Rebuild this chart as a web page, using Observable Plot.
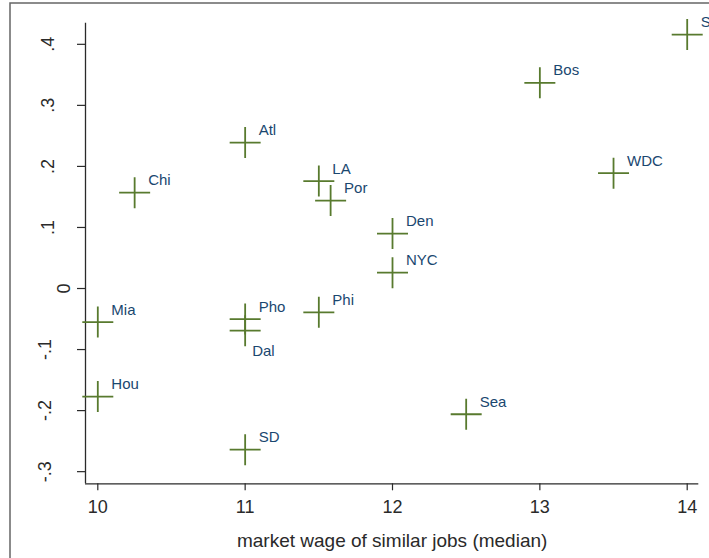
<!DOCTYPE html>
<html>
<head>
<meta charset="utf-8">
<script src="https://cdn.jsdelivr.net/npm/d3@7"></script>
<script src="https://cdn.jsdelivr.net/npm/@observablehq/plot@0.6"></script>
<style>
  html, body { margin: 0; padding: 0; background: #fff; overflow: hidden; }
  #chart { width: 709px; height: 558px; }
</style>
</head>
<body>
<div id="chart"></div>
<script>
// City labels and their coordinates
const cities   = ["SF", "Bos", "WDC", "Atl", "Chi", "LA", "Por", "Den", "NYC", "Phi", "Pho", "Dal", "Mia", "Hou", "SD", "Sea"];
const wage     = [14.0, 13.0, 13.5, 11.0, 10.25, 11.5, 11.58, 12.0, 12.0, 11.5, 11.0, 11.0, 10.0, 10.0, 11.0, 12.5];
const residual = [0.416, 0.337, 0.189, 0.239, 0.157, 0.176, 0.144, 0.090, 0.026, -0.039, -0.050, -0.069, -0.055, -0.177, -0.264, -0.206];

// Cities whose label sits below the marker instead of above-right
const labelBelow = ["Dal"];

// Axis ticks and their printed labels
const xTicks = [10, 11, 12, 13, 14];
const yTicksPos = [0.1, 0.2, 0.3, 0.4];
const yTicksNeg = [-0.3, -0.2, -0.1];
const yTicksZero = [0];
const yTickValues = [-0.3, -0.2, -0.1, 0, 0.1, 0.2, 0.3, 0.4];
const yTickLabels = ["-.3", "-.2", "-.1", "0", ".1", ".2", ".3", ".4"];

const xTitle = "market wage of similar jobs (median)";

const xDomain = [9.9165, 14.0787];
const yDomain = [-0.3199, 0.4346];

const points = cities.map((city, i) => ({city, wage: wage[i], residual: residual[i]}));

// Thin "+" marker
const plusSymbol = {
  draw(context, size) {
    const r = Math.sqrt(size / Math.PI);
    context.moveTo(-r, 0);
    context.lineTo(r, 0);
    context.moveTo(0, -r);
    context.lineTo(0, r);
  }
};

const yFormat = d => {
  const i = yTickValues.findIndex(v => Math.abs(v - d) < 1e-9);
  return i >= 0 ? yTickLabels[i] : "";
};

const markerColor = "#587a2e";
const labelColor = "#1a476f";
const axisColor = "#2a2a2a";

const yAxis = (ticks, pad) => Plot.axisY({
  ticks, tickSize: 8, tickPadding: pad, tickRotate: -90,
  tickFormat: yFormat, fontSize: 18, label: null, strokeWidth: 1.2
});

const chart = Plot.plot({
  width: 709,
  height: 558,
  marginLeft: 85,
  marginRight: 10.7,
  marginTop: 22.7,
  marginBottom: 74.7,
  style: {
    fontFamily: "'Liberation Sans', Arial, Helvetica, sans-serif",
    color: axisColor,
    background: "white",
    overflow: "visible"
  },
  x: {domain: xDomain},
  y: {domain: yDomain},
  marks: [
    Plot.frame({
      stroke: "#666", strokeWidth: 1.5,
      insetLeft: -75.5, insetTop: -20.2, insetRight: -60, insetBottom: -120
    }),
    Plot.ruleX([xDomain[0]], {stroke: axisColor, strokeWidth: 1.3}),
    Plot.ruleY([yDomain[0]], {stroke: axisColor, strokeWidth: 1.3}),
    Plot.axisX({
      ticks: xTicks, tickSize: 7, tickPadding: 9, fontSize: 18,
      tickFormat: d => String(d), label: null, strokeWidth: 1.2
    }),
    yAxis(yTicksPos, 23.7),
    yAxis(yTicksNeg, 27),
    yAxis(yTicksZero, 7.7),
    Plot.text([xTitle], {
      frameAnchor: "bottom", dy: 63.4, lineAnchor: "bottom",
      fontSize: 19, fill: axisColor
    }),
    Plot.dot(points, {
      x: "wage", y: "residual", symbol: plusSymbol, r: 15.5,
      stroke: markerColor, fill: "none", strokeWidth: 1.8
    }),
    Plot.text(points.filter(d => !labelBelow.includes(d.city)), {
      x: "wage", y: "residual", text: "city",
      dx: 13.5, dy: -7.5, textAnchor: "start", lineAnchor: "bottom",
      fontSize: 15, fill: labelColor
    }),
    Plot.text(points.filter(d => labelBelow.includes(d.city)), {
      x: "wage", y: "residual", text: "city",
      dx: 7, dy: 25, textAnchor: "start", lineAnchor: "bottom",
      fontSize: 15, fill: labelColor
    })
  ]
});

document.getElementById("chart").appendChild(chart);
</script>
</body>
</html>
